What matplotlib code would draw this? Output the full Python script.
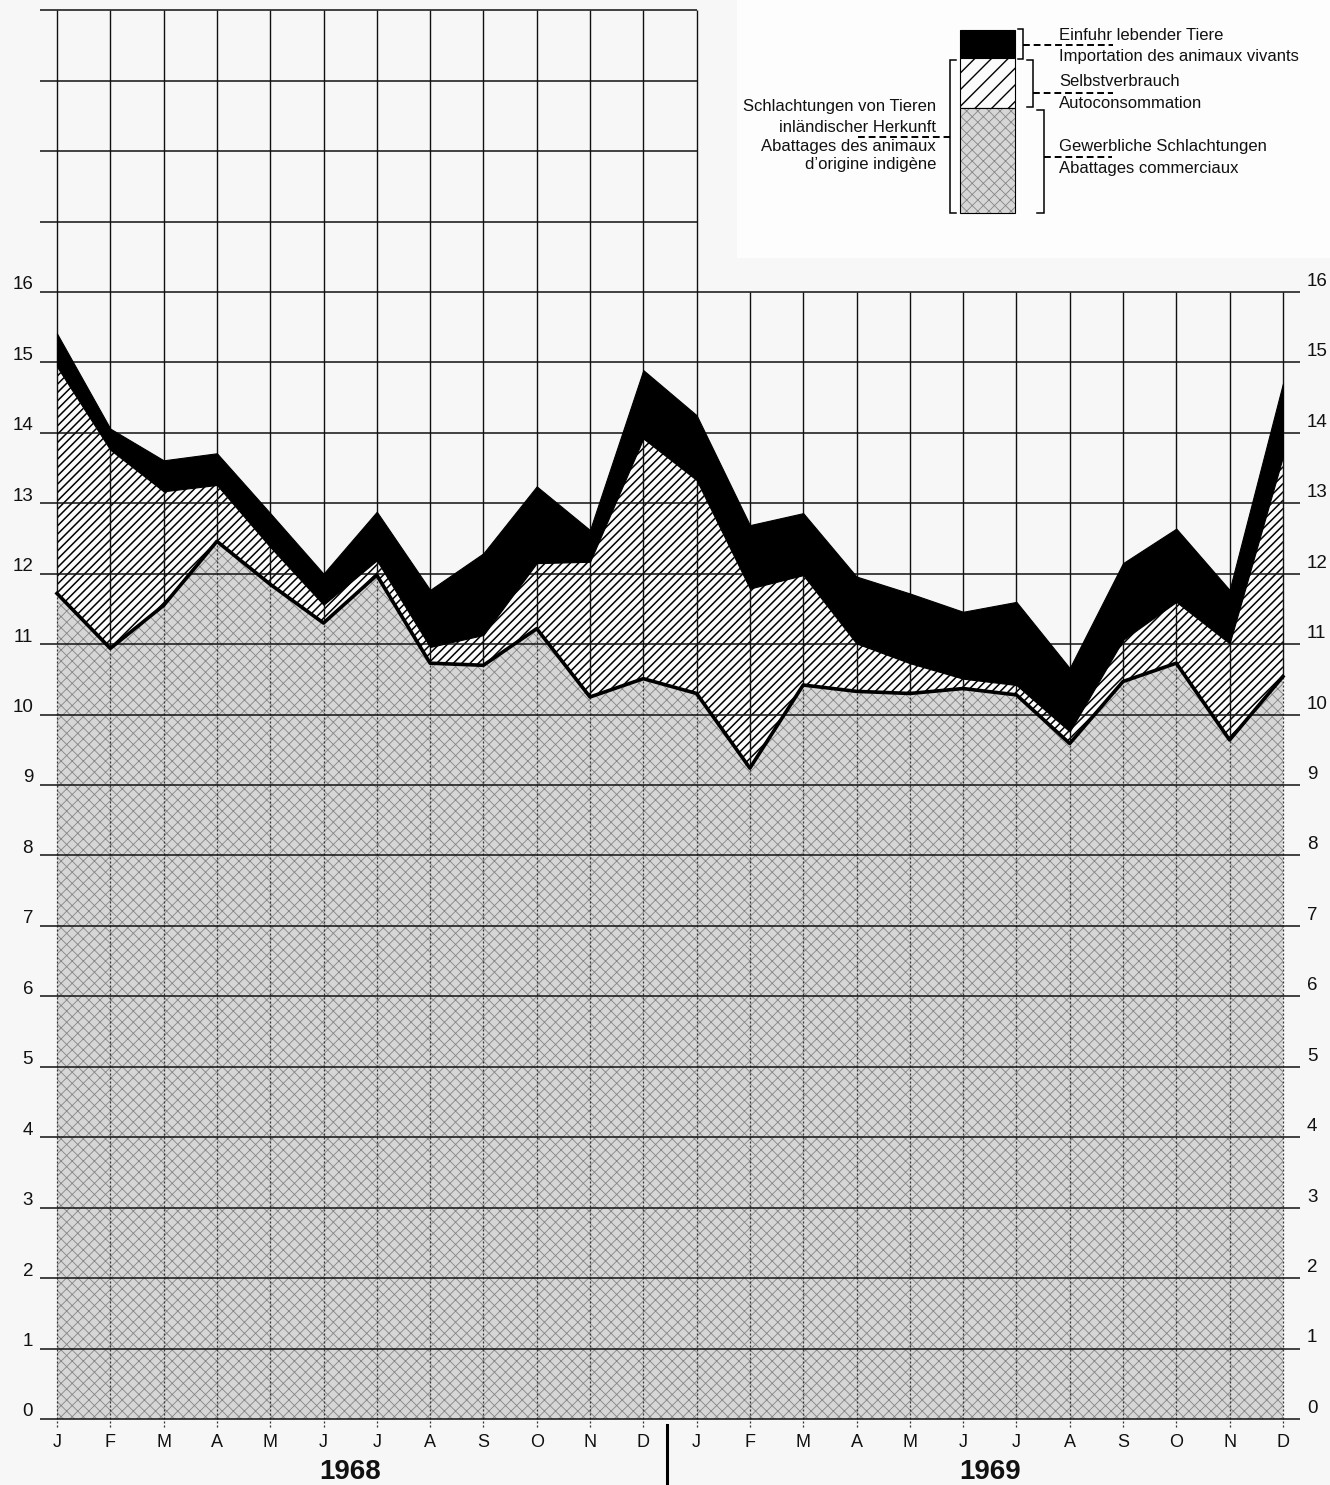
import matplotlib
matplotlib.use('Agg')
import matplotlib.pyplot as plt
import numpy as np
from matplotlib.patches import Rectangle

# ---------------- data ----------------
months = ['J', 'F', 'M', 'A', 'M', 'J', 'J', 'A', 'S', 'O', 'N', 'D'] * 2
years = ['1968', '1969']
# Gewerbliche Schlachtungen / Abattages commerciaux
commercial = [11.72, 10.94, 11.55, 12.46, 11.85, 11.30, 11.98, 10.73, 10.70, 11.22, 10.25, 10.51,
              10.30, 9.24, 10.42, 10.33, 10.30, 10.37, 10.28, 9.59, 10.47, 10.73, 9.64, 10.54]
# Selbstverbrauch / Autoconsommation
self_consumption = [3.22, 2.82, 1.62, 0.80, 0.53, 0.26, 0.21, 0.23, 0.43, 0.93, 1.92, 3.41,
                    3.03, 2.55, 1.56, 0.68, 0.43, 0.14, 0.14, 0.17, 0.59, 0.87, 1.37, 3.12]
# Einfuhr lebender Tiere / Importation des animaux vivants
imports = [0.47, 0.30, 0.44, 0.45, 0.48, 0.44, 0.69, 0.81, 1.16, 1.09, 0.45, 0.97,
           0.92, 0.90, 0.88, 0.95, 0.99, 0.95, 1.18, 0.90, 1.09, 1.04, 0.76, 1.04]
y_ticks = list(range(0, 17))

FONT = ['Liberation Sans', 'DejaVu Sans']
plt.rcParams['font.family'] = FONT

x = np.arange(len(commercial))
c = np.array(commercial)
s_top = c + np.array(self_consumption)
t_top = s_top + np.array(imports)

W, H = 1330, 1485
fig = plt.figure(figsize=(W / 100, H / 100), dpi=100, facecolor='#f7f7f7')

# main data axes, covering the whole figure
x0px, dxpx = 57.0, 53.3
y0px, dypx = 1419.0, 70.44
ax = fig.add_axes([0, 0, 1, 1])
ax.set_facecolor('none')
ax.set_xlim((0 - x0px) / dxpx, (W - x0px) / dxpx)
ax.set_ylim((y0px - H) / dypx, y0px / dypx)
ax.axis('off')

# ---------- grid ----------
n = len(x)
split = 12
grid_top = np.where(x <= split, 20, 16)
ax.vlines(x, -0.12, c, colors='#333333', linestyles=(0, (1.6, 1.6)), lw=0.9, zorder=3)
ax.vlines(x, c, grid_top, colors='#111111', lw=1.0, zorder=3)
for v in range(0, 21):
    xmax = (n - 1) + 0.32 if v <= 16 else split
    ax.hlines(v, -0.32, xmax, colors='#111111', lw=1.1, zorder=3)

# ---------- stacked areas ----------
with plt.rc_context({'hatch.linewidth': 0.6}):
    ax.fill_between(x, 0, c, facecolor='#d6d6d6', edgecolor='#858585', hatch='xxx',
                    lw=0, zorder=2)
with plt.rc_context({'hatch.linewidth': 1.1}):
    ax.fill_between(x, c, s_top, facecolor='#fbfbfb', edgecolor='black', hatch='////',
                    lw=0, zorder=2)
ax.fill_between(x, s_top, t_top, facecolor='black', edgecolor='black', lw=0.8, zorder=4)
ax.plot(x, c, color='black', lw=2.6, zorder=5)

# ---------- tick labels ----------
for v in y_ticks:
    ax.text(-0.45, v + 0.1, str(v), ha='right', va='center', fontsize=13.5, color='#111111')
    ax.text((n - 1) + 0.45, v + 0.15, str(v), ha='left', va='center', fontsize=13.5,
            color='#111111')
for i, m in enumerate(months):
    ax.text(i, -0.34, m, ha='center', va='center', fontsize=13, color='#111111')
for k, yr in enumerate(years):
    ax.text(5.5 + 12 * k, -0.75, yr, ha='center', va='center', fontsize=20,
            fontweight='bold', family=['Liberation Sans Narrow', 'Liberation Sans'],
            color='#111111')
ax.plot([11.45, 11.45], [-0.09, -0.91], color='black', lw=2.2, clip_on=False)

# ---------- legend (pixel coordinates) ----------
dec = fig.add_axes([0, 0, 1, 1])
dec.set_facecolor('none')
dec.set_xlim(0, W)
dec.set_ylim(H, 0)
dec.axis('off')

dec.add_patch(Rectangle((737, 0), W - 737, 258, facecolor='#fdfdfd', edgecolor='none', zorder=0))
bx, bw = 960, 55
dec.add_patch(Rectangle((bx, 30), bw, 28, facecolor='black', edgecolor='black', lw=0.8, zorder=2))
with plt.rc_context({'hatch.linewidth': 1.0}):
    dec.add_patch(Rectangle((bx, 58), bw, 50, facecolor='#fbfbfb', edgecolor='black',
                            hatch='//', lw=0.8, zorder=2))
with plt.rc_context({'hatch.linewidth': 0.6}):
    dec.add_patch(Rectangle((bx, 108), bw, 105, facecolor='#d6d6d6', edgecolor='#858585',
                            hatch='xxx', lw=0, zorder=2))
dec.add_patch(Rectangle((bx, 108), bw, 105, facecolor='none', edgecolor='black', lw=0.8, zorder=3))


def bracket(xv, ya, yb, tick_to):
    dec.plot([tick_to, xv, xv, tick_to], [ya, ya, yb, yb], color='black', lw=1.1,
             solid_joinstyle='miter')


bracket(1023, 29, 59, 1018)
bracket(1033, 60, 107, 1027)
bracket(1044, 110, 213, 1037)
bracket(950, 60, 213, 956)

dash = (0, (3.5, 2))
dec.plot([1023, 1113], [45, 45], color='black', lw=1.4, linestyle=dash)
dec.plot([1033, 1113], [93, 93], color='black', lw=1.4, linestyle=dash)
dec.plot([1044, 1112], [157, 157], color='black', lw=1.4, linestyle=dash)
dec.plot([858, 950], [137, 137], color='black', lw=1.4, linestyle=dash)

tk = dict(fontsize=12, color='#111111', va='center')
dec.text(1059, 36, 'Einfuhr lebender Tiere', ha='left', **tk)
dec.text(1059, 56, 'Importation des animaux vivants', ha='left', **tk)
dec.text(1059, 82, 'Selbstverbrauch', ha='left', **tk)
dec.text(1059, 103, 'Autoconsommation', ha='left', **tk)
dec.text(1059, 147, 'Gewerbliche Schlachtungen', ha='left', **tk)
dec.text(1059, 168, 'Abattages commerciaux', ha='left', **tk)
dec.text(936, 107, 'Schlachtungen von Tieren', ha='right', **tk)
dec.text(936, 127, 'inländischer Herkunft', ha='right', **tk)
dec.text(936, 146, 'Abattages des animaux', ha='right', **tk)
dec.text(936, 165, 'd\u2019origine indigène', ha='right', **tk)

fig.savefig('out.png', dpi=100, facecolor=fig.get_facecolor())
